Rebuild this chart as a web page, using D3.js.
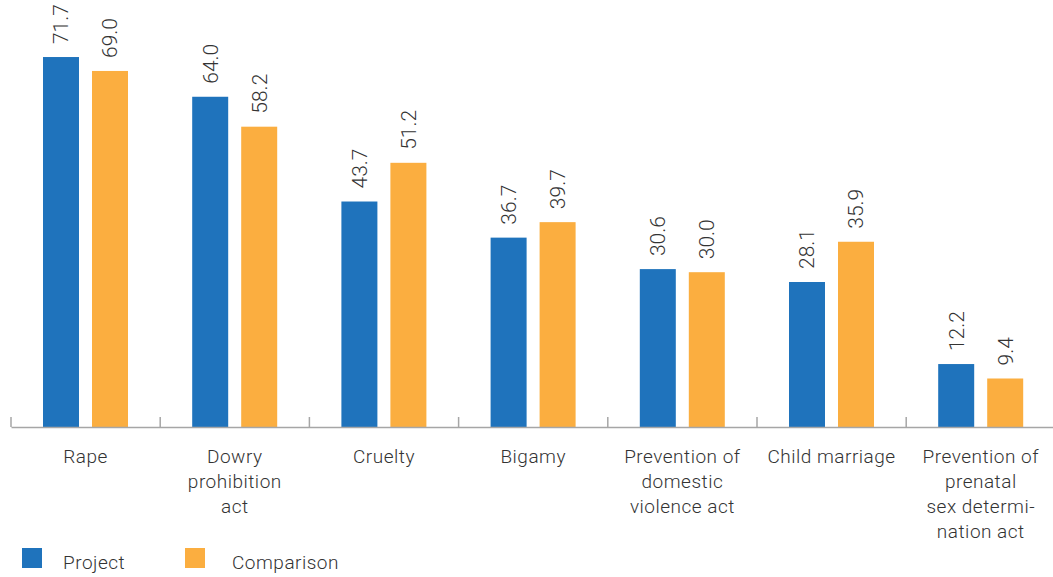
<!DOCTYPE html>
<html>
<head>
<meta charset="utf-8">
<script src="https://cdn.jsdelivr.net/npm/d3@7"></script>
<style>
  html, body { margin: 0; padding: 0; background: #fff; }
  svg { display: block; }
  text { font-family: Roboto, "Noto Sans", sans-serif; fill: #333; }
</style>
</head>
<body>
<svg id="chart" width="1053" height="577"></svg>
<script>
// Awareness of laws, by category (percent)
const categories = [
  ["Rape"],
  ["Dowry", "prohibition", "act"],
  ["Cruelty"],
  ["Bigamy"],
  ["Prevention of", "domestic", "violence act"],
  ["Child marriage"],
  ["Prevention of", "prenatal", "sex determi-", "nation act"]
];
const seriesNames = ["Project", "Comparison"];
const projectValues = [71.7, 64.0, 43.7, 36.7, 30.6, 28.1, 12.2];
const comparisonValues = [69.0, 58.2, 51.2, 39.7, 30.0, 35.9, 9.4];
const colors = ["#1f73bc", "#fbae40"];

const svg = d3.select("#chart");
const axisY = 427;

const x0 = d3.scaleBand()
  .domain(d3.range(categories.length))
  .range([11, 1055.4])
  .paddingInner(0)
  .paddingOuter(0);

// Pair of bars sits in the middle of each category band
const x1 = d3.scaleBand()
  .domain(seriesNames)
  .range([32, 117])
  .paddingInner(13 / 49)
  .paddingOuter(0);

const y = d3.scaleLinear().domain([0, 80]).range([axisY, axisY - 80 * 5.16]);

const rows = categories.map((c, i) => ({
  i,
  vals: [projectValues[i], comparisonValues[i]]
}));

const groups = svg.selectAll("g.cat")
  .data(rows)
  .join("g")
  .attr("class", "cat")
  .attr("transform", d => `translate(${x0(d.i)},0)`);

groups.selectAll("rect")
  .data(d => d.vals.map((v, k) => ({ v, k })))
  .join("rect")
  .attr("x", d => x1(seriesNames[d.k]))
  .attr("y", d => y(d.v))
  .attr("width", x1.bandwidth())
  .attr("height", d => y(0) - y(d.v))
  .attr("fill", d => colors[d.k]);

groups.selectAll("text.val")
  .data(d => d.vals.map((v, k) => ({ v, k })))
  .join("text")
  .attr("class", "val")
  .attr("transform", d => `translate(${x1(seriesNames[d.k]) + x1.bandwidth() / 2},${y(d.v) - 13}) rotate(-90)`)
  .attr("dy", "0.35em")
  .attr("text-anchor", "start")
  .style("font-size", "21px")
  .style("font-weight", 300)
  .text(d => d.v.toFixed(1));

// Category axis with inward ticks
const axis = d3.axisBottom(x0)
  .tickSizeInner(-10)
  .tickSizeOuter(0)
  .tickFormat("");
const axisG = svg.append("g")
  .attr("transform", `translate(0,${axisY})`)
  .call(axis);
axisG.select(".domain").attr("stroke", "#a6a6a6").attr("stroke-width", 1.5);
axisG.selectAll(".tick").attr("transform", d => `translate(${x0(d)},0)`);
axisG.selectAll(".tick line").attr("stroke", "#a6a6a6").attr("stroke-width", 1.5);

// Category labels, one line per tspan
groups.append("text")
  .attr("class", "cat-label")
  .attr("text-anchor", "middle")
  .style("font-size", "19px")
  .style("font-weight", 300)
  .style("letter-spacing", "0.5px")
  .selectAll("tspan")
  .data(d => categories[d.i])
  .join("tspan")
  .attr("x", x0.bandwidth() / 2)
  .attr("y", (d, j) => 463 + j * 25)
  .text(d => d);

// Legend
const legend = svg.append("g");
const legendX = [22, 185];
const legendTextX = [63, 232];
seriesNames.forEach((name, k) => {
  legend.append("rect")
    .attr("x", legendX[k]).attr("y", 548)
    .attr("width", 20).attr("height", 20)
    .attr("fill", colors[k]);
  legend.append("text")
    .attr("x", legendTextX[k]).attr("y", 569)
    .style("font-size", "19px")
    .style("font-weight", 300)
    .style("letter-spacing", "0.5px")
    .text(name);
});
</script>
</body>
</html>
